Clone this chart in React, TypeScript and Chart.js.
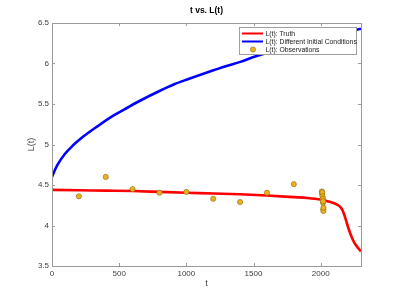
import React, { useEffect, useRef } from "react";
import { Chart, registerables } from "chart.js";

Chart.register(...registerables);

const truthT = [0, 200, 400, 600, 800, 1000, 1200, 1400, 1600, 1800, 1900, 2000, 2050, 2100, 2130, 2150, 2165, 2180, 2200, 2225, 2250, 2275, 2300];
const truthL = [4.44, 4.435, 4.43, 4.425, 4.415, 4.405, 4.395, 4.385, 4.37, 4.35, 4.34, 4.32, 4.3, 4.275, 4.25, 4.22, 4.18, 4.11, 4.0, 3.88, 3.79, 3.73, 3.68];

const diffT = [0, 20, 45, 94, 157, 219, 343, 450, 567, 655, 800, 905, 1000, 1154, 1300, 1401, 1500, 1700, 1900, 2100, 2300];
const diffL = [4.6, 4.68, 4.76, 4.88, 4.99, 5.08, 5.23, 5.35, 5.46, 5.54, 5.66, 5.74, 5.8, 5.89, 5.97, 6.02, 6.08, 6.18, 6.27, 6.35, 6.43];

const obsT = [200, 400, 600, 800, 1000, 1200, 1400, 1600, 1800, 2008, 2010, 2012, 2014, 2015, 2016, 2017, 2018, 2019, 2020, 2021];
const obsL = [4.36, 4.6, 4.45, 4.405, 4.415, 4.33, 4.29, 4.405, 4.51, 4.42, 4.39, 4.41, 4.36, 4.32, 4.33, 4.28, 4.3, 4.2, 4.18, 4.22];

const xTicks = [0, 500, 1000, 1500, 2000];
const yTicks = [3.5, 4, 4.5, 5, 5.5, 6, 6.5];

const seriesNames = ["L(t): Truth", "L(t): Different Initial Conditions", "L(t): Observations"];
const titleText = "t vs. L(t)";
const xTitle = "t";
const yTitle = "L(t)";

const FONT = "'Liberation Sans', Arial, Helvetica, sans-serif";
const AXIS_COLOR = "#9a9a9a";
const TEXT_COLOR = "#404040";
const OBS_FILL = "#EDB120";
const OBS_EDGE = "#8a6a10";

const decorPlugin = {
  id: "decor",
  afterDraw(chart: any) {
    const { ctx, chartArea: a, scales } = chart;
    const xs = scales.x;
    const ys = scales.y;
    ctx.save();
    ctx.strokeStyle = AXIS_COLOR;
    ctx.lineWidth = 1;
    ctx.strokeRect(Math.round(a.left) + 0.5, Math.round(a.top) + 0.5, Math.round(a.right - a.left), Math.round(a.bottom - a.top));
    const tl = 3;
    ctx.beginPath();
    xTicks.forEach((v) => {
      const px = Math.round(xs.getPixelForValue(v)) + 0.5;
      ctx.moveTo(px, a.bottom);
      ctx.lineTo(px, a.bottom - tl);
      ctx.moveTo(px, a.top);
      ctx.lineTo(px, a.top + tl);
    });
    yTicks.forEach((v) => {
      const py = Math.round(ys.getPixelForValue(v)) + 0.5;
      ctx.moveTo(a.left, py);
      ctx.lineTo(a.left + tl, py);
      ctx.moveTo(a.right, py);
      ctx.lineTo(a.right - tl, py);
    });
    ctx.stroke();

    ctx.fillStyle = "#000";
    ctx.font = `bold 8.5px ${FONT}`;
    ctx.textAlign = "center";
    ctx.textBaseline = "middle";
    ctx.fillText(titleText, (a.left + a.right) / 2, 11);

    ctx.fillStyle = TEXT_COLOR;
    ctx.font = `9px ${FONT}`;
    ctx.fillText(xTitle, (a.left + a.right) / 2, 284);
    ctx.save();
    ctx.translate(32, (a.top + a.bottom) / 2);
    ctx.rotate(-Math.PI / 2);
    ctx.fillText(yTitle, 0, 0);
    ctx.restore();

    const lx = 239.5, ly = 27.5, lw = 117, lh = 27;
    ctx.fillStyle = "#fff";
    ctx.fillRect(lx, ly, lw, lh);
    ctx.strokeStyle = "#a0a0a0";
    ctx.strokeRect(lx, ly, lw, lh);
    const rows = [33.5, 41.5, 49.5];
    ctx.font = `6.8px ${FONT}`;
    ctx.textAlign = "left";
    ctx.textBaseline = "middle";
    const ds = chart.data.datasets;
    [0, 1].forEach((i) => {
      ctx.strokeStyle = ds[i].borderColor;
      ctx.lineWidth = 2;
      ctx.beginPath();
      ctx.moveTo(242, rows[i]);
      ctx.lineTo(263, rows[i]);
      ctx.stroke();
    });
    ctx.fillStyle = OBS_FILL;
    ctx.strokeStyle = OBS_EDGE;
    ctx.lineWidth = 0.6;
    ctx.beginPath();
    ctx.arc(253, rows[2], 2.6, 0, Math.PI * 2);
    ctx.fill();
    ctx.stroke();
    ctx.fillStyle = "#222";
    seriesNames.forEach((n, i) => ctx.fillText(n, 265.5, rows[i] + 0.5));
    ctx.restore();
  },
};

export default function App() {
  const ref = useRef<HTMLCanvasElement>(null);
  useEffect(() => {
    document.body.style.margin = "0";
    const canvas = ref.current!;
    const chart = new Chart(canvas, {
      type: "scatter",
      data: {
        datasets: [
          {
            label: seriesNames[0],
            data: truthT.map((t, i) => ({ x: t, y: truthL[i] })),
            showLine: true,
            borderColor: "#ff0000",
            backgroundColor: "#ff0000",
            borderWidth: 2.6,
            pointRadius: 0,
            cubicInterpolationMode: "monotone",
            order: 2,
          },
          {
            label: seriesNames[1],
            data: diffT.map((t, i) => ({ x: t, y: diffL[i] })),
            showLine: true,
            borderColor: "#0000ff",
            backgroundColor: "#0000ff",
            borderWidth: 2.6,
            pointRadius: 0,
            cubicInterpolationMode: "monotone",
            order: 2,
          },
          {
            label: seriesNames[2],
            data: obsT.map((t, i) => ({ x: t, y: obsL[i] })),
            showLine: false,
            backgroundColor: OBS_FILL,
            borderColor: OBS_EDGE,
            borderWidth: 0.6,
            pointRadius: 2.6,
            order: 1,
          },
        ],
      },
      options: {
        responsive: false,
        animation: false,
        devicePixelRatio: 1,
        layout: { padding: { left: 0, right: 38, top: 23, bottom: 0 } },
        plugins: {
          legend: { display: false },
          title: { display: false },
          tooltip: { enabled: false },
        },
        scales: {
          x: {
            type: "linear",
            min: 0,
            max: 2300,
            grid: { display: false, drawTicks: false },
            border: { display: false },
            afterBuildTicks: (s: any) => {
              s.ticks = xTicks.map((v) => ({ value: v }));
            },
            afterFit: (s: any) => {
              s.height = 33;
            },
            ticks: {
              padding: 3,
              color: TEXT_COLOR,
              font: { family: FONT, size: 8 },
              maxRotation: 0,
              callback: (v: any) => String(v),
            },
          },
          y: {
            type: "linear",
            min: 3.5,
            max: 6.5,
            grid: { display: false, drawTicks: false },
            border: { display: false },
            afterBuildTicks: (s: any) => {
              s.ticks = yTicks.map((v) => ({ value: v }));
            },
            afterFit: (s: any) => {
              s.width = 52;
            },
            ticks: {
              padding: 3,
              color: TEXT_COLOR,
              font: { family: FONT, size: 8 },
              callback: (v: any) => String(v),
            },
          },
        },
      },
      plugins: [decorPlugin],
    });
    return () => chart.destroy();
  }, []);
  return (
    <div style={{ position: "absolute", left: 0, top: 0, width: 399, height: 299, background: "#fff" }}>
      <canvas ref={ref} width={399} height={299} />
    </div>
  );
}
